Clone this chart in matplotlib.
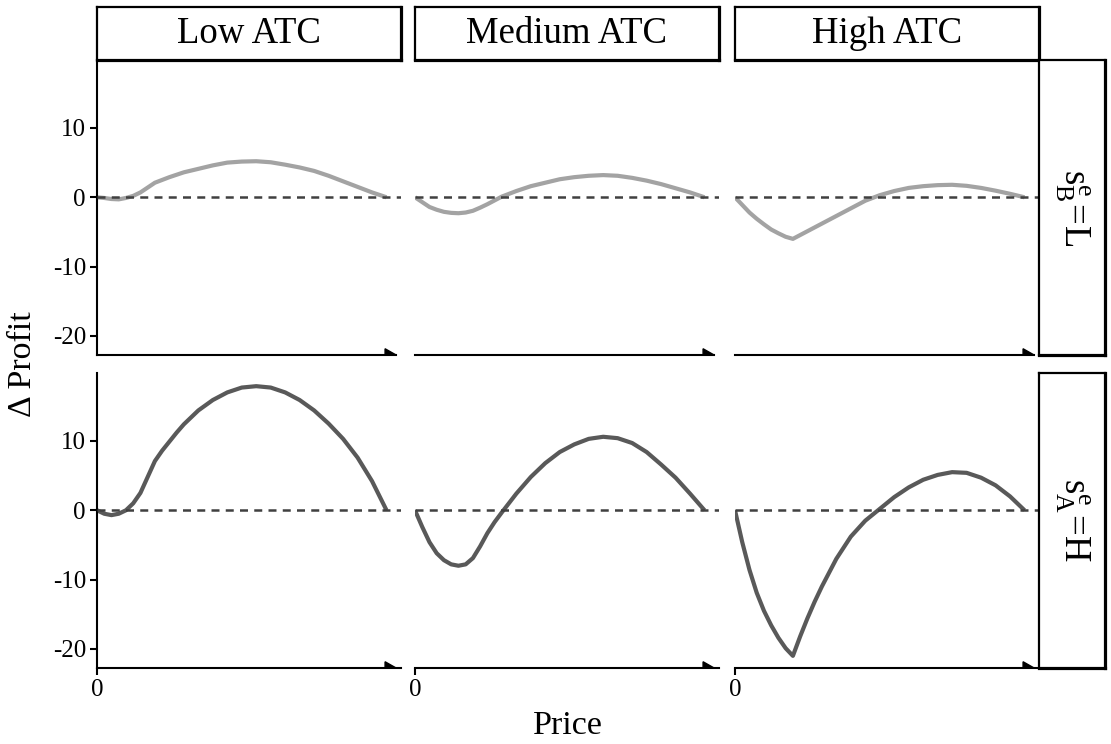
import numpy as np
import matplotlib
matplotlib.use("Agg")
import matplotlib.pyplot as plt
from matplotlib.patches import Polygon

plt.rcParams['font.family'] = ['Liberation Serif', 'DejaVu Serif']
plt.rcParams['mathtext.fontset'] = 'custom'
plt.rcParams['mathtext.rm'] = 'Liberation Serif'
plt.rcParams['mathtext.it'] = 'Liberation Serif'
plt.rcParams['mathtext.default'] = 'regular'
plt.rcParams['axes.unicode_minus'] = False

# data
price = [0, 0.25, 0.5, 0.75, 1.0, 1.25, 1.5, 1.75, 2.0, 2.25, 2.5, 2.75, 3, 3.5, 4,
         4.5, 5, 5.5, 6, 6.5, 7, 7.5, 8, 8.5, 9, 9.5, 10]

cost_levels = ['Low ATC', 'Medium ATC', 'High ATC']
row_labels = [r'$s_B^e\!=\!L$', r'$s_A^e\!=\!H$']

# top row (s_B^e = L)
dprofit_L_low = [0, -0.1, -0.25, -0.3, -0.1, 0.2, 0.7, 1.4, 2.1, 2.5, 2.9, 3.25, 3.6, 4.1, 4.6,
                 5.0, 5.15, 5.2, 5.05, 4.7, 4.3, 3.8, 3.1, 2.3, 1.5, 0.7, 0]
dprofit_L_med = [0, -0.7, -1.4, -1.8, -2.1, -2.25, -2.3, -2.2, -1.95, -1.5, -1.0, -0.45, 0.1, 0.9, 1.6,
                 2.1, 2.6, 2.9, 3.1, 3.2, 3.1, 2.8, 2.4, 1.9, 1.3, 0.7, 0]
dprofit_L_high = [0, -1.1, -2.2, -3.1, -3.9, -4.65, -5.2, -5.7, -6.0, -5.45, -4.9, -4.35, -3.8, -2.7, -1.6,
                  -0.5, 0.3, 0.9, 1.35, 1.6, 1.75, 1.8, 1.65, 1.35, 0.95, 0.5, 0]

# bottom row (s_A^e = H)
dprofit_H_low = [0, -0.5, -0.7, -0.5, 0, 1.0, 2.5, 4.8, 7.1, 8.6, 9.9, 11.2, 12.4, 14.4, 15.9,
                 17.0, 17.7, 17.9, 17.7, 17.0, 15.9, 14.4, 12.5, 10.3, 7.6, 4.2, 0]
dprofit_H_med = [0, -2.4, -4.6, -6.2, -7.2, -7.8, -8.0, -7.8, -6.9, -5.2, -3.3, -1.7, -0.3, 2.4, 4.8,
                 6.8, 8.4, 9.5, 10.3, 10.6, 10.4, 9.7, 8.4, 6.6, 4.7, 2.4, 0]
dprofit_H_high = [0, -4.6, -8.6, -11.9, -14.5, -16.6, -18.4, -19.9, -21.0, -18.2, -15.6, -13.2, -11.0, -7.0, -3.8,
                  -1.5, 0.2, 1.9, 3.3, 4.4, 5.1, 5.5, 5.4, 4.7, 3.6, 2.0, 0]

rows = [[dprofit_L_low, dprofit_L_med, dprofit_L_high],
        [dprofit_H_low, dprofit_H_med, dprofit_H_high]]
row_colors = ['#A3A3A3', '#595959']

yticks = [-20, -10, 0, 10]

W, H = 1111, 744
fig = plt.figure(figsize=(W / 100, H / 100), dpi=100)
serif = ['Liberation Serif', 'DejaVu Serif']


def box(x, y, w, h):
    # pixel box (top-left origin) -> figure fraction
    return [x / W, 1 - (y + h) / H, w / W, h / H]


def strip(rect, text, rot=0):
    s = fig.add_axes(rect)
    s.set_xticks([])
    s.set_yticks([])
    for side in ['left', 'top']:
        s.spines[side].set_linewidth(1.6)
    for side in ['right', 'bottom']:
        s.spines[side].set_linewidth(2.3)
    s.text(0.5, 0.5, text, ha='center', va='center', rotation=rot,
           fontsize=26.5, transform=s.transAxes, family=serif)


col_left = [97, 415, 735]
col_w = 304
row_top = [60, 373]
row_h = 295
xmax = 10.5
ylim = (-22.75, 19.8)

for r in range(2):
    for c in range(3):
        ax = fig.add_axes(box(col_left[c], row_top[r], col_w, row_h))
        ax.plot(price, rows[r][c], color=row_colors[r], lw=3, zorder=2,
                solid_capstyle='butt', solid_joinstyle='round')
        ax.axhline(0, color='#404040', lw=1.8, ls=(0, (3.2, 2.5)), zorder=3)
        ax.set_xlim(0, xmax)
        ax.set_ylim(*ylim)
        for side in ['top', 'right']:
            ax.spines[side].set_visible(False)
        ax.spines['bottom'].set_linewidth(1.5)
        ax.spines['left'].set_linewidth(1.5)
        if c > 0:
            ax.spines['left'].set_visible(False)
            ax.set_yticks([])
        else:
            ax.set_yticks(yticks)
            ax.set_yticklabels([str(v) for v in yticks], family=serif)
        ax.tick_params(axis='both', labelsize=18, length=5, width=1.5,
                       pad=3, color='black')
        if r == 1:
            ax.set_xticks([0])
            ax.set_xticklabels(['0'], family=serif)
        else:
            ax.set_xticks([])

        # little arrow head at the end of the price range
        x_end = price[-1]
        tip = x_end + 0.33
        if r == 0:
            ax.spines['bottom'].set_bounds(0, tip)
        head = Polygon([[x_end - 0.05, ylim[0]], [x_end - 0.05, ylim[0] + 0.9],
                        [tip, ylim[0]]], closed=True, color='black',
                       clip_on=False, zorder=4)
        ax.add_patch(head)

        if r == 0:
            strip(box(col_left[c], 7, col_w, 53), cost_levels[c])
    strip(box(1039, row_top[r], 66, row_h), row_labels[r], rot=-90)

fig.text(23 / W, 1 - 364 / H, 'Δ Profit', rotation=90, ha='center', va='center',
         fontsize=24.5, family=serif)
fig.text(568 / W, 1 - 726 / H, 'Price', ha='center', va='center',
         fontsize=24.5, family=serif)

fig.savefig('out.png', dpi=100)
